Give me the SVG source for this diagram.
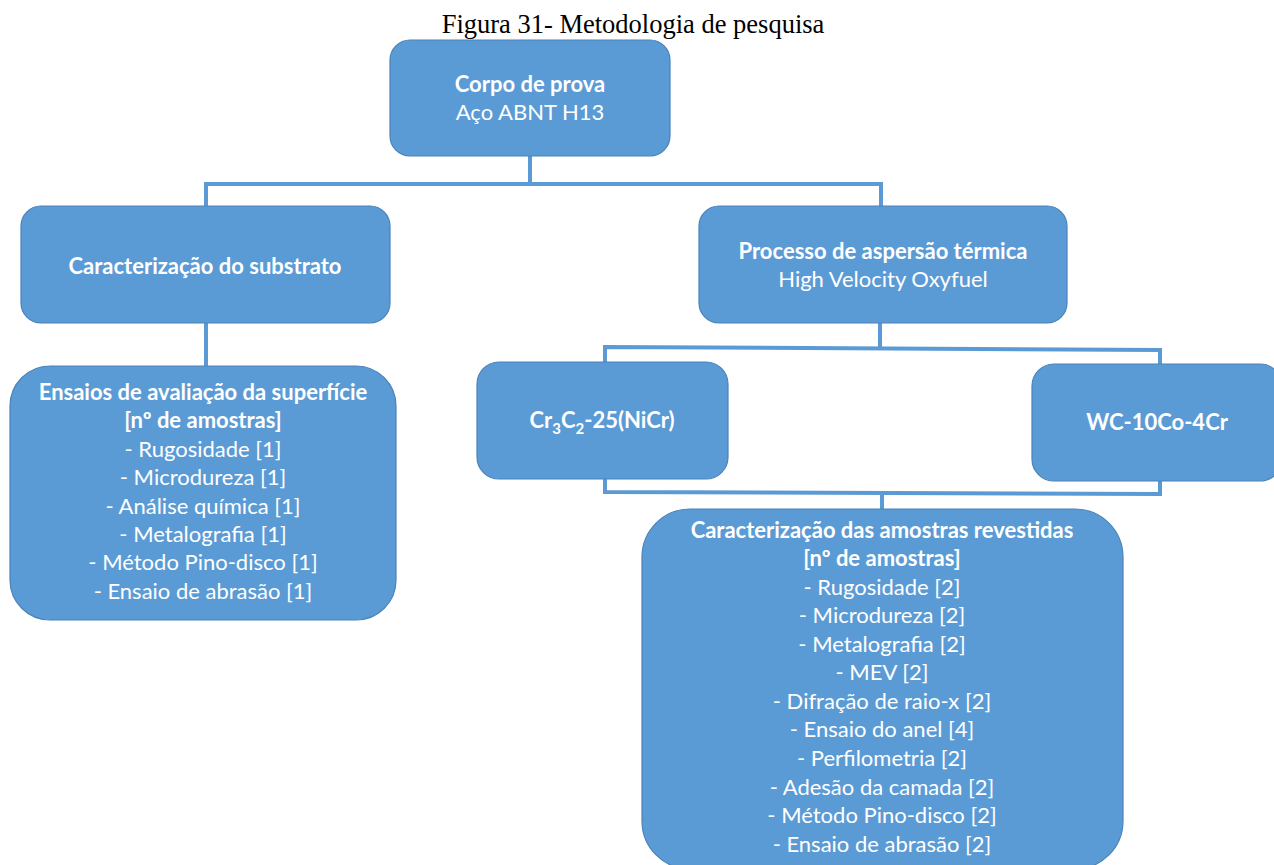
<svg xmlns="http://www.w3.org/2000/svg" width="1274" height="865" viewBox="0 0 1274 865">
  <style>
    .box { fill: #5B9BD5; stroke: #4A83B8; stroke-width: 1.2; }
    .link { fill: none; stroke: #5B9BD5; stroke-width: 4; }
    .t { font-family: Lato, "Open Sans", sans-serif; font-size: 22px; fill: #FFFFFF; text-anchor: middle; }
    .b { font-weight: bold; }
    .title { font-family: "Liberation Serif", serif; font-size: 26.5px; fill: #000000; text-anchor: middle; }
  </style>
  <rect width="1274" height="865" fill="#FFFFFF"/>

  <text class="title" x="633" y="33">Figura 31- Metodologia de pesquisa</text>

  <g id="connectors">
    <path class="link" d="M530 156 V184 M206 206 V184 H881 V206"/>
    <path class="link" d="M206 323 V367"/>
    <path class="link" d="M880 323 V347 M605 363 V347 L1160 350 V365"/>
    <path class="link" d="M605 479 V492 L1160 494 V481 M882 493 V510"/>
  </g>

  <g id="corpo">
    <rect class="box" x="390" y="40" width="280" height="116" rx="20"/>
    <text class="t b" x="530" y="92">Corpo de prova</text>
    <text class="t" x="530" y="120">Aço ABNT H13</text>
  </g>

  <g id="substrato">
    <rect class="box" x="21" y="206" width="369" height="117" rx="20"/>
    <text class="t b" x="205" y="274">Caracterização do substrato</text>
  </g>

  <g id="aspersao">
    <rect class="box" x="699" y="206" width="368" height="117" rx="20"/>
    <text class="t b" x="883" y="259">Processo de aspersão térmica</text>
    <text class="t" x="883" y="287">High Velocity Oxyfuel</text>
  </g>

  <g id="ensaios">
    <rect class="box" x="10" y="366" width="386" height="254" rx="40"/>
    <text class="t b" x="203" y="400">Ensaios de avaliação da superfície</text>
    <text class="t b" x="203" y="428">[nº de amostras]</text>
    <text class="t" x="203" y="457">- Rugosidade [1]</text>
    <text class="t" x="203" y="485">- Microdureza [1]</text>
    <text class="t" x="203" y="514">- Análise química [1]</text>
    <text class="t" x="203" y="542">- Metalografia [1]</text>
    <text class="t" x="203" y="570">- Método Pino-disco [1]</text>
    <text class="t" x="203" y="599">- Ensaio de abrasão [1]</text>
  </g>

  <g id="cr3c2">
    <rect class="box" x="477" y="362" width="251" height="117" rx="22"/>
    <text class="t b" x="602" y="428">Cr<tspan font-size="15" dy="6">3</tspan><tspan dy="-6">C</tspan><tspan font-size="15" dy="6">2</tspan><tspan dy="-6">-25(NiCr)</tspan></text>
  </g>

  <g id="wc">
    <rect class="box" x="1032" y="364" width="250" height="117" rx="22"/>
    <text class="t b" x="1157" y="430">WC-10Co-4Cr</text>
  </g>

  <g id="revestidas">
    <rect class="box" x="642" y="509" width="481" height="360" rx="48"/>
    <text class="t b" x="882" y="538">Caracterização das amostras revestidas</text>
    <text class="t b" x="882" y="566">[nº de amostras]</text>
    <text class="t" x="882" y="595">- Rugosidade [2]</text>
    <text class="t" x="882" y="623">- Microdureza [2]</text>
    <text class="t" x="882" y="652">- Metalografia [2]</text>
    <text class="t" x="882" y="680">- MEV [2]</text>
    <text class="t" x="882" y="709">- Difração de raio-x [2]</text>
    <text class="t" x="882" y="737">- Ensaio do anel [4]</text>
    <text class="t" x="882" y="766">- Perfilometria [2]</text>
    <text class="t" x="882" y="795">- Adesão da camada [2]</text>
    <text class="t" x="882" y="823">- Método Pino-disco [2]</text>
    <text class="t" x="882" y="852">- Ensaio de abrasão [2]</text>
  </g>
</svg>
